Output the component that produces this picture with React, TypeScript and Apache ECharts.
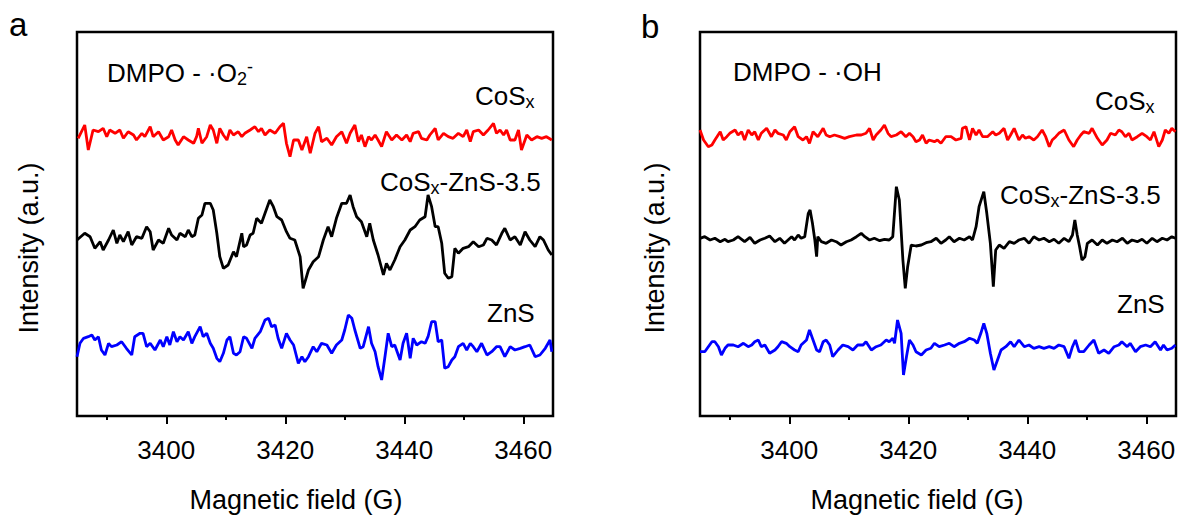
import React, { useEffect, useRef } from "react";
import * as echarts from "echarts";

// Magnetic field axis (G)
const FIELD_MIN = 3385;
const FIELD_MAX = 3465;
const MAJOR_TICKS = [3400, 3420, 3440, 3460];
const MINOR_TICKS = [3390, 3410, 3430, 3450];

// vertical stacking offsets (a.u.)
const Y_MAX = 384;
const OFFSET_COSX = 279;
const OFFSET_MIX = 176;
const OFFSET_ZNS = 69;

// Panel a: DMPO - ·O2- ; [field (G), signal (a.u.)]
const A_COSX: number[][] = [[3385.2,-1.3],[3386.3,12],[3386.9,-13],[3387.7,7],[3388.6,5.3],[3389.4,8.7],[3390.0,0.3],[3390.5,7],[3391.4,3.7],[3392.2,7],[3392.8,-1.3],[3393.6,5.3],[3394.5,2],[3395.0,-3],[3395.9,3.7],[3396.4,0.3],[3397.3,10.3],[3397.8,0.3],[3398.7,5.3],[3399.5,-3],[3400.4,0.3],[3400.9,7],[3401.5,-3],[3402.0,-8],[3402.9,0.3],[3403.7,-3],[3404.6,-6.3],[3405.1,0.3],[3405.4,8.7],[3406.0,-6.3],[3406.8,0.3],[3407.4,12],[3407.9,7],[3408.5,-6.3],[3409.0,8.7],[3409.6,2],[3410.2,-3],[3410.7,7],[3411.3,2],[3412.1,5.3],[3412.7,0.3],[3413.2,3.7],[3414.1,7],[3414.9,10.3],[3415.5,5.3],[3416.0,8.7],[3416.6,2],[3417.4,7],[3418.3,3.7],[3419.1,10.3],[3419.7,13.7],[3420.2,-6.3],[3420.8,-19.7],[3421.4,-3],[3422.2,-3],[3422.8,-13],[3423.6,0.3],[3424.2,-16.3],[3425.0,3.7],[3425.6,10.3],[3426.1,-4.7],[3427.0,-1.3],[3427.8,-8],[3428.6,0.3],[3429.5,5.3],[3430.3,-6.3],[3430.9,3.7],[3431.7,12],[3432.3,-4.7],[3432.8,2],[3433.4,-9.7],[3434.0,0.3],[3434.5,-3],[3435.1,2],[3435.6,-3],[3436.2,-9.7],[3437.0,5.3],[3437.9,-3],[3438.7,2],[3439.6,-3],[3440.4,2],[3441.0,-4.7],[3441.5,3.7],[3442.4,5.3],[3442.9,-1.3],[3443.8,-3],[3444.3,2],[3445.2,8.7],[3445.7,-3],[3446.6,3.7],[3447.4,0.3],[3448.2,-1.3],[3449.1,3.7],[3449.9,0.3],[3450.5,7],[3451.1,-4.7],[3451.6,5.3],[3452.5,7],[3453.3,2],[3454.1,7],[3455.0,13.7],[3455.5,3.7],[3456.1,7],[3456.7,2],[3457.2,7],[3457.8,-3],[3458.6,-3],[3459.2,7],[3459.7,-13],[3460.6,2],[3461.4,-3],[3462.3,0.3],[3463.1,-1.3],[3463.9,0.3],[3464.8,-3]];

const A_MIX: number[][] = [[3385.0,0],[3386.3,6.7],[3387.2,3.3],[3388.0,-8.3],[3388.9,-1.7],[3389.4,-10],[3390.3,0],[3391.1,10],[3391.7,-3.3],[3392.2,5],[3392.8,-1.7],[3393.6,8.3],[3394.2,-5],[3395.0,3.3],[3395.9,1.7],[3396.7,13.3],[3397.3,8.3],[3397.8,-10],[3398.7,0],[3399.5,-3.3],[3400.4,11.7],[3400.9,5],[3401.8,0],[3402.3,6.7],[3403.2,3.3],[3403.7,10],[3404.3,3.3],[3404.8,5],[3405.4,21.7],[3406.0,25],[3406.5,36.7],[3407.4,36.7],[3407.9,30],[3408.5,6.7],[3409.0,-16.7],[3409.6,-28.3],[3410.4,-25],[3411.3,-11.7],[3411.8,-16.7],[3412.7,6.7],[3413.0,-6.7],[3413.5,-5],[3414.1,5],[3414.6,6.7],[3415.2,21.7],[3416.0,16.7],[3416.6,26.7],[3417.4,40],[3418.0,33.3],[3418.6,23.3],[3419.4,20],[3420.2,8.3],[3420.8,1.7],[3421.6,0],[3422.5,-16.7],[3423.0,-48.3],[3423.9,-30],[3424.7,-21.7],[3425.6,-16.7],[3426.4,0],[3427.2,13.3],[3427.8,3.3],[3428.6,21.7],[3429.5,36.7],[3430.3,36.7],[3430.9,45],[3431.4,33.3],[3432.0,23.3],[3432.8,18.3],[3433.7,3.3],[3434.2,16.7],[3434.8,0],[3435.6,-15],[3436.5,-35],[3437.0,-23.3],[3437.6,-30],[3438.4,-20],[3439.3,-6.7],[3440.1,0],[3441.0,10],[3441.8,13.3],[3442.6,20],[3443.5,23.3],[3444.0,45],[3444.6,33.3],[3445.2,13.3],[3445.7,13.3],[3446.3,-3.3],[3446.8,-33.3],[3447.4,-38.3],[3448.0,-36.7],[3448.5,-8.3],[3449.1,-13.3],[3449.9,-8.3],[3450.8,-6.7],[3451.6,-1.7],[3452.5,-6.7],[3453.3,-5],[3453.9,1.7],[3454.7,0],[3455.5,-5],[3456.4,6.7],[3456.9,11.7],[3457.8,0],[3458.6,3.3],[3459.5,-5],[3460.3,8.3],[3461.1,0],[3462.0,-6.7],[3462.8,3.3],[3463.4,0],[3464.2,-10],[3464.8,-15]];

const A_ZNS: number[][] = [[3385.0,-9.7],[3385.5,3.7],[3386.1,8.7],[3386.9,10.3],[3387.5,12],[3388.0,7],[3388.6,10.3],[3389.1,-3],[3389.7,-8],[3390.3,3.7],[3390.8,0.3],[3391.7,2],[3392.5,5.3],[3393.3,-1.3],[3394.2,-8],[3394.7,10.3],[3395.6,13.7],[3396.1,13.7],[3396.7,0.3],[3397.3,3.7],[3398.1,-3],[3399.0,7],[3399.5,0.3],[3400.1,10.3],[3400.6,2],[3401.2,15.3],[3401.8,5.3],[3402.3,10.3],[3402.9,7],[3403.7,15.3],[3404.3,3.7],[3404.8,10.3],[3405.7,20.3],[3406.2,10.3],[3406.8,13.7],[3407.4,3.7],[3407.9,-1.3],[3408.5,-11.3],[3409.0,-14.7],[3409.6,-6.3],[3410.2,7],[3410.7,10.3],[3411.3,-6.3],[3411.8,-8],[3412.4,-4.7],[3413.0,10.3],[3413.5,8.7],[3414.4,-1.3],[3414.9,8.7],[3415.8,15.3],[3416.6,27],[3417.2,28.7],[3417.7,20.3],[3418.3,22],[3418.8,8.7],[3419.4,-1.3],[3420.2,13.7],[3420.8,7],[3421.4,2],[3422.2,-16.3],[3422.8,-9.7],[3423.3,-14.7],[3423.9,-9.7],[3424.7,0.3],[3425.3,-4.7],[3426.1,3.7],[3427.0,2],[3427.8,-6.3],[3428.6,2],[3429.5,7],[3430.0,17],[3430.6,32],[3431.2,28.7],[3431.7,17],[3432.6,-1.3],[3433.1,0.3],[3434.0,20.3],[3434.5,3.7],[3435.1,-4.7],[3435.6,-19.7],[3436.2,-33],[3436.8,-8],[3437.3,13.7],[3437.9,0.3],[3438.4,2],[3439.3,-13],[3439.8,3.7],[3440.4,13.7],[3441.0,-11.3],[3441.5,8.7],[3442.1,2],[3442.9,5.3],[3443.5,3.7],[3444.0,10.3],[3444.6,25.3],[3445.2,25.3],[3445.7,5.3],[3446.3,7],[3446.8,-21.3],[3447.4,-19.7],[3448.0,-13],[3448.5,-9.7],[3449.1,0.3],[3449.9,3.7],[3450.5,-3],[3451.1,3.7],[3451.6,0.3],[3452.2,-4.7],[3453.0,3.7],[3453.9,-8],[3454.7,-4.7],[3455.5,0.3],[3456.1,0.3],[3456.9,-9.7],[3457.8,0.3],[3458.6,-3],[3459.5,-1.3],[3460.3,0.3],[3461.1,2],[3462.0,-9.7],[3462.8,-8],[3463.7,-1.3],[3464.5,7],[3464.8,-4.7]];

// Panel b: DMPO - ·OH
const B_COSX: number[][] = [[3385.0,7],[3385.6,-3],[3386.4,-9.7],[3387.0,-8],[3387.5,-3],[3388.4,5.3],[3388.9,-3],[3389.5,0.3],[3390.0,3.7],[3390.9,7],[3391.4,2],[3392.0,5.3],[3392.5,-3],[3393.1,7],[3393.7,2],[3394.2,5.3],[3394.8,-3],[3395.3,3.7],[3396.2,8.7],[3397.0,0.3],[3397.6,7],[3398.1,3.7],[3399.0,2],[3399.5,-3],[3400.1,5.3],[3400.9,10.3],[3401.5,0.3],[3402.3,-3],[3402.9,0.3],[3403.4,-6.3],[3404.0,5.3],[3404.8,0.3],[3405.7,8.7],[3406.2,2],[3406.8,0.3],[3407.6,2],[3408.5,0.3],[3409.3,-1.3],[3410.1,0.3],[3411.3,2],[3412.1,2],[3412.9,3.7],[3413.5,8.7],[3414.1,-3],[3414.6,2],[3415.4,7],[3416.0,12],[3416.6,3.7],[3417.1,0.3],[3418.0,2],[3418.8,5.3],[3419.6,0.3],[3420.2,3.7],[3420.8,0.3],[3421.3,-4.7],[3421.9,-3],[3422.4,2],[3423.0,-6.3],[3423.5,-3],[3424.4,-4.7],[3424.9,-3],[3425.5,-6.3],[3426.3,0.3],[3427.2,0.3],[3428.0,-3],[3428.9,-1.3],[3429.1,8.7],[3429.7,10.3],[3430.3,-3],[3430.8,8.7],[3431.4,2],[3431.9,7],[3432.5,0.3],[3433.3,0.3],[3434.2,5.3],[3434.7,2],[3435.3,3.7],[3436.1,8.7],[3436.7,-3],[3437.2,2],[3437.8,8.7],[3438.6,-3],[3439.2,2],[3439.7,-1.3],[3440.3,0.3],[3441.1,-3],[3441.7,0.3],[3442.5,7],[3443.1,0.3],[3443.7,-9.7],[3444.2,-3],[3444.8,0.3],[3445.3,3.7],[3446.2,7],[3447.0,-3],[3447.8,-9.7],[3448.4,-3],[3449.0,2],[3449.5,5.3],[3450.4,3.7],[3450.9,8.7],[3451.8,-1.3],[3452.6,-8],[3453.4,-3],[3454.0,3.7],[3454.8,2],[3455.4,7],[3455.9,5.3],[3456.5,0.3],[3457.1,3.7],[3457.6,-3],[3458.5,0.3],[3459.3,3.7],[3460.1,0.3],[3460.7,-3],[3461.3,5.3],[3462.1,-9.7],[3462.7,-3],[3463.2,7],[3463.8,3.7],[3464.3,8.7],[3464.9,5.3]];

const B_MIX: number[][] = [[3385.0,0.7],[3385.8,2.3],[3386.7,-1],[3387.5,0.7],[3388.4,-2.7],[3389.2,-0.3],[3389.7,-2.7],[3390.6,-1],[3391.4,2.3],[3392.0,-0.3],[3392.5,-2.7],[3393.4,1.7],[3394.2,-4.3],[3395.1,-1],[3395.9,0.7],[3396.7,3],[3397.6,-2.7],[3398.4,0.7],[3399.2,-4.3],[3399.8,-1],[3400.4,2.3],[3400.9,-1],[3401.5,4],[3402.0,0.7],[3402.6,2.3],[3403.2,25.7],[3403.5,29],[3403.9,15.7],[3404.3,-1],[3404.6,-17.7],[3404.8,2.3],[3405.4,-2.7],[3406.2,-4.3],[3407.1,-1],[3407.9,-2.7],[3408.7,-6],[3409.6,-2.7],[3410.4,-1],[3411.3,2.3],[3412.1,5.7],[3412.7,2.3],[3413.5,-1],[3414.3,0.7],[3415.2,-1.7],[3416.0,-0.3],[3416.8,-1],[3417.4,2.3],[3418.0,52.3],[3418.5,39],[3419.1,-21],[3419.5,-49.3],[3419.9,-27.7],[3420.5,-6],[3421.3,-7],[3422.2,-6],[3423.0,-3.7],[3423.8,-2.7],[3424.7,0.7],[3425.5,-4.3],[3426.3,-1],[3426.9,2.3],[3427.7,-2.7],[3428.6,0.7],[3429.4,-1],[3430.3,2.3],[3430.8,-1],[3431.4,12.3],[3431.9,32.3],[3432.7,47.3],[3433.2,25.7],[3433.8,-4.3],[3434.3,-47.7],[3434.7,-11],[3435.3,-6],[3436.1,-9.3],[3437.0,-2.7],[3437.8,-4.3],[3438.6,-1],[3439.5,0.7],[3440.3,-4.3],[3441.1,2.3],[3442.0,-1],[3442.8,0.7],[3443.7,-2.7],[3444.5,-0.3],[3445.3,-4.3],[3446.2,0.7],[3447.0,-2.7],[3447.6,4],[3448.0,19],[3448.4,4],[3448.8,-7.7],[3449.2,-21],[3449.7,-17.7],[3450.1,-4.3],[3450.9,-1],[3451.8,-6],[3452.6,-1],[3453.4,-4.3],[3454.3,-1],[3455.1,-2.7],[3456.0,0.7],[3456.8,-4.3],[3457.6,-1],[3458.5,-2.7],[3459.3,-0.3],[3460.1,-4.3],[3461.0,0.7],[3461.8,-2.7],[3462.7,0.7],[3463.5,-1],[3464.3,2.3],[3464.9,0.7]];

const B_ZNS: number[][] = [[3385.0,-3.7],[3385.8,-3.7],[3386.4,1.3],[3387.0,6.3],[3387.5,6.3],[3388.1,1.3],[3388.6,-7],[3389.2,-0.3],[3389.7,3],[3390.6,3],[3391.4,1.3],[3392.3,4.7],[3393.1,1.3],[3393.7,3],[3394.2,6.3],[3394.8,8],[3395.3,1.3],[3395.9,3],[3396.7,-5.3],[3397.6,-2],[3398.1,1.3],[3398.7,6.3],[3399.5,4.7],[3400.1,1.3],[3400.9,-2],[3401.5,-3.7],[3402.0,3],[3402.9,8],[3403.4,18],[3404.0,8],[3404.6,-2],[3405.1,-3.7],[3405.7,6.3],[3406.2,8],[3406.8,3],[3407.3,-8.7],[3408.2,-2],[3409.0,3],[3409.9,1.3],[3410.7,-2],[3411.5,3],[3412.4,3],[3412.9,6.3],[3413.8,-2],[3414.6,1.3],[3415.4,3],[3416.3,8],[3416.8,6.3],[3417.4,9.7],[3417.7,4.7],[3418.2,28],[3418.8,14.7],[3419.2,-27],[3419.7,-8.7],[3420.2,8],[3420.8,3],[3421.3,-3.7],[3422.2,-7],[3423.0,-2],[3423.8,-0.3],[3424.4,4.7],[3425.2,1.3],[3426.1,3],[3426.9,4.7],[3427.7,1.3],[3428.6,4.7],[3429.4,6.3],[3430.3,9.7],[3431.1,8],[3431.6,4.7],[3432.2,14.7],[3432.7,24.7],[3433.2,14.7],[3433.8,-5.3],[3434.4,-22],[3435.0,-12],[3435.6,-2],[3436.4,1.3],[3437.2,6.3],[3437.8,1.3],[3438.6,8],[3439.5,1.3],[3440.3,3],[3441.1,-0.3],[3442.0,1.3],[3442.8,-0.3],[3443.7,1.3],[3444.5,-0.3],[3445.3,3],[3446.2,1.3],[3447.0,-10.3],[3447.6,1.3],[3448.1,8],[3448.7,-3.7],[3449.5,-3.7],[3450.4,3],[3451.2,8],[3452.0,-5.3],[3452.9,-2],[3453.7,-5.3],[3454.6,1.3],[3455.4,3],[3455.9,6.3],[3456.8,1.3],[3457.3,4.7],[3458.2,-3.7],[3459.0,1.3],[3459.9,3],[3460.7,1.3],[3461.5,6.3],[3462.4,-2],[3462.9,3],[3463.5,-2],[3464.3,-0.3],[3464.9,3]];

const FONT = "'Liberation Sans', Arial, Helvetica, sans-serif";
const RED = "#ff0000";
const BLUE = "#0000ff";
const BLACK = "#000000";

const rich = {
  m: { fontSize: 26, lineHeight: 30, fontFamily: FONT, fill: "#000" },
  t: { fontSize: 27, lineHeight: 30, fontFamily: FONT, fill: "#000" },
  s: { fontSize: 18, lineHeight: 8, verticalAlign: "bottom", fontFamily: FONT, fill: "#000" },
  p: { fontSize: 18, lineHeight: 10, verticalAlign: "top", fontFamily: FONT, fill: "#000" },
};

function label(text: string, x: number, y: number, align = "left") {
  return {
    type: "text",
    x,
    y,
    style: { text, rich, align, verticalAlign: "middle", fill: "#000", font: `26px ${FONT}` },
  };
}

function shift(data: number[][], offset: number) {
  return data.map((d) => [d[0], d[1] + offset]);
}

export default function App() {
  const ref = useRef<HTMLDivElement>(null);
  useEffect(() => {
    if (!ref.current) return;
    const chart = echarts.init(ref.current, undefined, { renderer: "svg" });
    const grids = [
      { left: 77, top: 32, width: 476, height: 384 },
      { left: 700, top: 32, width: 476, height: 384 },
    ].map((g) => ({ ...g, show: true, borderColor: "#000", borderWidth: 2.5, backgroundColor: "transparent" }));

    const xAxes: any[] = [];
    const yAxes: any[] = [];
    [0, 1].forEach((gi) => {
      xAxes.push({
        type: "value",
        gridIndex: gi,
        min: FIELD_MIN,
        max: FIELD_MAX,
        axisLine: { show: false },
        splitLine: { show: false },
        axisTick: { show: true, inside: false, length: 8, lineStyle: { color: "#000", width: 2 }, customValues: MAJOR_TICKS },
        axisLabel: {
          show: true,
          customValues: MAJOR_TICKS,
          formatter: (v: number) => String(v),
          fontSize: 26,
          color: "#000",
          fontFamily: FONT,
          margin: 21,
        },
      });
      xAxes.push({
        type: "value",
        gridIndex: gi,
        position: "bottom",
        min: FIELD_MIN,
        max: FIELD_MAX,
        axisLine: { show: false },
        splitLine: { show: false },
        axisTick: { show: true, inside: false, length: 4, lineStyle: { color: "#000", width: 2 }, customValues: MINOR_TICKS },
        axisLabel: { show: false },
      });
      yAxes.push({ type: "value", gridIndex: gi, min: 0, max: Y_MAX, show: false });
    });

    const mk = (data: number[][], offset: number, color: string, gi: number) => ({
      type: "line",
      xAxisIndex: gi * 2,
      yAxisIndex: gi,
      data: shift(data, offset),
      showSymbol: false,
      symbol: "none",
      lineStyle: { color, width: 2.8 },
      itemStyle: { color },
      silent: true,
    });

    chart.setOption({
      animation: false,
      grid: grids,
      xAxis: xAxes,
      yAxis: yAxes,
      series: [
        mk(A_COSX, OFFSET_COSX, RED, 0),
        mk(A_MIX, OFFSET_MIX, BLACK, 0),
        mk(A_ZNS, OFFSET_ZNS, BLUE, 0),
        mk(B_COSX, OFFSET_COSX, RED, 1),
        mk(B_MIX, OFFSET_MIX + 1, BLACK, 1),
        mk(B_ZNS, OFFSET_ZNS - 1, BLUE, 1),
      ],
      graphic: [
        { type: "text", x: 9, y: 24, style: { text: "a", fill: "#000", font: `33px ${FONT}`, align: "left", verticalAlign: "middle" } },
        { type: "text", x: 641, y: 26, style: { text: "b", fill: "#000", font: `33px ${FONT}`, align: "left", verticalAlign: "middle" } },
        label("{m|DMPO - ·O}{s|2}{p|-}", 107, 73),
        label("{m|CoS}{s|x}", 475, 96),
        label("{m|CoS}{s|x}{m|-ZnS-3.5}", 380, 182),
        label("{m|ZnS}", 487, 313),
        label("{m|DMPO - ·OH}", 733, 72),
        label("{m|CoS}{s|x}", 1095, 101),
        label("{m|CoS}{s|x}{m|-ZnS-3.5}", 1000, 195),
        label("{m|ZnS}", 1117, 304),
        label("{t|Magnetic field (G)}", 296, 500, "center"),
        label("{t|Magnetic field (G)}", 917, 500, "center"),
        { ...label("{t|Intensity (a.u.)}", 29, 248, "center"), rotation: Math.PI / 2 },
        { ...label("{t|Intensity (a.u.)}", 655, 248, "center"), rotation: Math.PI / 2 },
      ],
    });
    return () => chart.dispose();
  }, []);
  return <div ref={ref} style={{ position: "absolute", left: 0, top: 0, width: 1182, height: 516, background: "#fff" }} />;
}
